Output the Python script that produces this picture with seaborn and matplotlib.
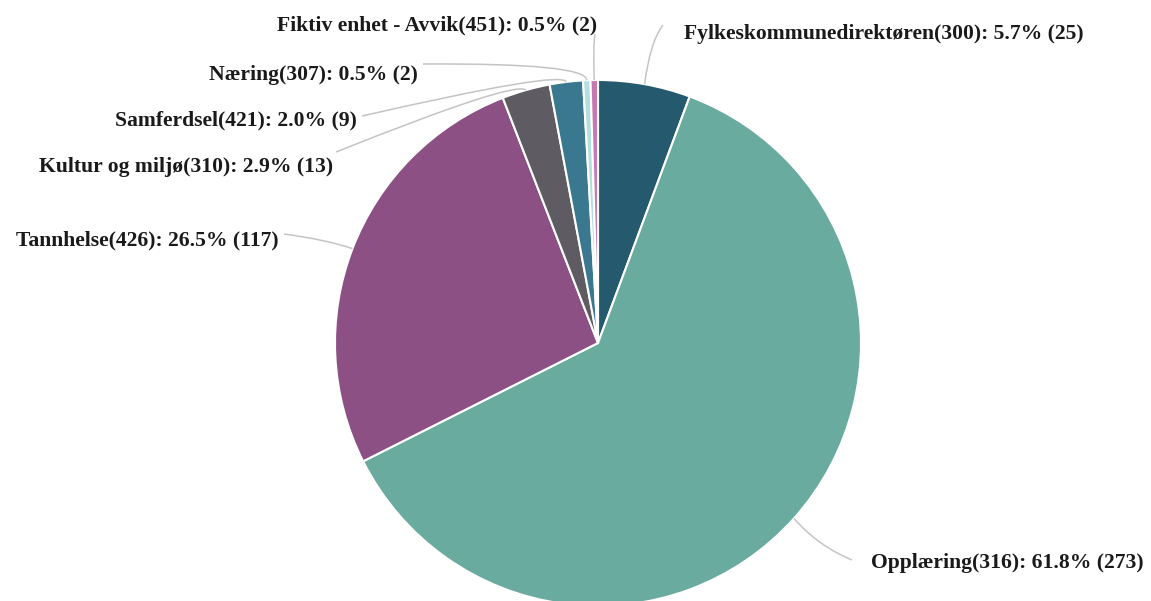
import numpy as np
import matplotlib.pyplot as plt
import seaborn as sns
from matplotlib.path import Path
from matplotlib.patches import PathPatch

# data
units = ["Fylkeskommunedirektøren", "Opplæring", "Tannhelse", "Kultur og miljø",
         "Samferdsel", "Næring", "Fiktiv enhet - Avvik"]
codes = [300, 316, 426, 310, 421, 307, 451]
counts = [25, 273, 117, 13, 9, 2, 2]
percents = [5.7, 61.8, 26.5, 2.9, 2.0, 0.5, 0.5]
colors = ["#255a6e", "#6aab9f", "#8c5084", "#5f5b62", "#3a7890", "#b3dfe0", "#c678b0"]

W, H = 1151, 601

# label layout in pixel coords (x, baseline y, ha), knee and end of the leader line
label_pos = [(684, 39, "left"), (871, 568, "left"), (279, 245, "right"),
             (333, 172, "right"), (357, 125, "right"), (418, 80, "right"),
             (597, 30, "right")]
knees = [(650, 42), (818, 546), (328, 240), (516, 80), (563, 70), (587, 63), (593, 45)]
ends = [(663, 25), (852, 560), (284, 234), (336, 152), (362, 116), (423, 64), (595, 34)]

sns.set_theme(style="white")
plt.rcParams["font.family"] = ["Liberation Serif", "DejaVu Serif"]

fig = plt.figure(figsize=(W / 100, H / 100), dpi=100)
ax = fig.add_axes([0, 0, 1, 1])

cx, cy, r = 598, H - 343, 263
wedges, _ = ax.pie(counts, colors=colors, startangle=90, counterclock=False,
                   center=(cx, cy), radius=r, frame=True,
                   wedgeprops=dict(edgecolor="white", linewidth=1.5))

for i, w in enumerate(wedges):
    ang = np.deg2rad((w.theta1 + w.theta2) / 2)
    ex, ey = cx + r * np.cos(ang), cy + r * np.sin(ang)
    kx, ky = knees[i]
    tx, ty = ends[i]
    path = Path([(ex, ey), (kx, H - ky), (tx, H - ty)],
                [Path.MOVETO, Path.CURVE3, Path.CURVE3])
    ax.add_patch(PathPatch(path, fill=False, edgecolor="#c4c4c4", lw=1.1))
    lx, ly, ha = label_pos[i]
    ax.text(lx, H - ly, f"{units[i]}({codes[i]}): {percents[i]:.1f}% ({counts[i]})",
            ha=ha, va="baseline", fontsize=15.6, fontweight="bold", color="#1a1a1a")

ax.set_xlim(0, W)
ax.set_ylim(0, H)
ax.set_aspect("auto")
ax.axis("off")

fig.savefig("out.png", dpi=100)
